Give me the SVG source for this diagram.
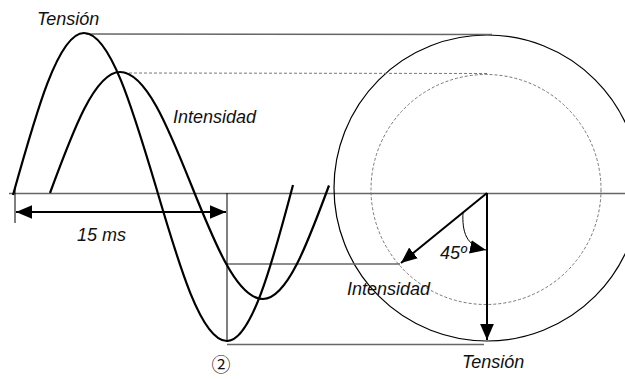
<svg xmlns="http://www.w3.org/2000/svg" width="625" height="379" viewBox="0 0 625 379">
<style>
.wave{fill:none;stroke:#000;stroke-width:2.2;stroke-linejoin:round}
.gray{stroke:#666;stroke-width:1.4;fill:none}
.thin{stroke:#000;stroke-width:1;fill:none}
.dash{stroke:#777;stroke-width:1;stroke-dasharray:3 2;fill:none}
.vec{stroke:#000;stroke-width:2;fill:none}
.lbl{font-family:"Liberation Sans",Arial,sans-serif;font-style:italic;font-size:18px;fill:#111}
</style>
<defs>
<marker id="ah" markerUnits="userSpaceOnUse" markerWidth="16" markerHeight="14" refX="14" refY="6" orient="auto-start-reverse" viewBox="0 0 14 12">
<path d="M0,0 L14,6 L0,12 z" fill="#000"/>
</marker>
</defs>
<rect width="625" height="379" fill="#fff"/>
<g id="axis">
<line class="gray" x1="9" y1="193.5" x2="625" y2="193.5"/>
</g>
<g id="phasor-circles">
<circle cx="487" cy="188" r="153" fill="none" stroke="#000" stroke-width="1.2"/>
<circle class="dash" cx="486" cy="189.5" r="115"/>
</g>
<g id="projections">
<line class="gray" x1="86" y1="34" x2="492" y2="34.5"/>
<line class="dash" x1="124" y1="73" x2="487" y2="73.5"/>
<line class="gray" x1="227" y1="264" x2="400" y2="264"/>
<line class="gray" x1="227" y1="344.5" x2="484" y2="344.5"/>
<line class="thin" x1="227" y1="193" x2="227" y2="342"/>
<line class="thin" x1="15" y1="188" x2="15" y2="223"/>
</g>
<g id="tension-wave">
<path class="wave" d="M13,195 C36.2,112 58.3,33 84,33 C110.1,33 132.5,108.2 156,187 C179.1,265.8 201.3,341 227,341 C250.9,341 271.5,266.6 293,185"/>
</g>
<g id="intensidad-wave">
<path class="wave" d="M50,193 C72.8,131 94.7,72 120,72 C145.9,72 168.2,127.4 191.5,185.5 C214.8,243.6 237.1,299 263,299 C286.9,299 307.5,243.6 329,185.5"/>
</g>
<g id="connectors">
<line class="vec" x1="16" y1="212" x2="226" y2="212" marker-start="url(#ah)" marker-end="url(#ah)"/>
<line class="vec" x1="487" y1="193" x2="487" y2="340" marker-end="url(#ah)"/>
<line class="vec" x1="487" y1="193" x2="401" y2="263" marker-end="url(#ah)"/>
<path class="thin" stroke-width="1.6" d="M463,212 C462,232 466,246 486,250" marker-end="url(#ah)"/>
</g>
<g id="labels">
<text class="lbl" x="37" y="25">Tensión</text>
<text class="lbl" x="173" y="123">Intensidad</text>
<text class="lbl" x="77" y="241">15 ms</text>
<text class="lbl" x="440" y="259">45º</text>
<text class="lbl" x="347" y="295">Intensidad</text>
<text class="lbl" x="462" y="368">Tensión</text>
<text x="221" y="372" text-anchor="middle" font-family="'Noto Sans CJK JP','DejaVu Sans',sans-serif" font-size="19" fill="#111">②</text>
</g>
</svg>
